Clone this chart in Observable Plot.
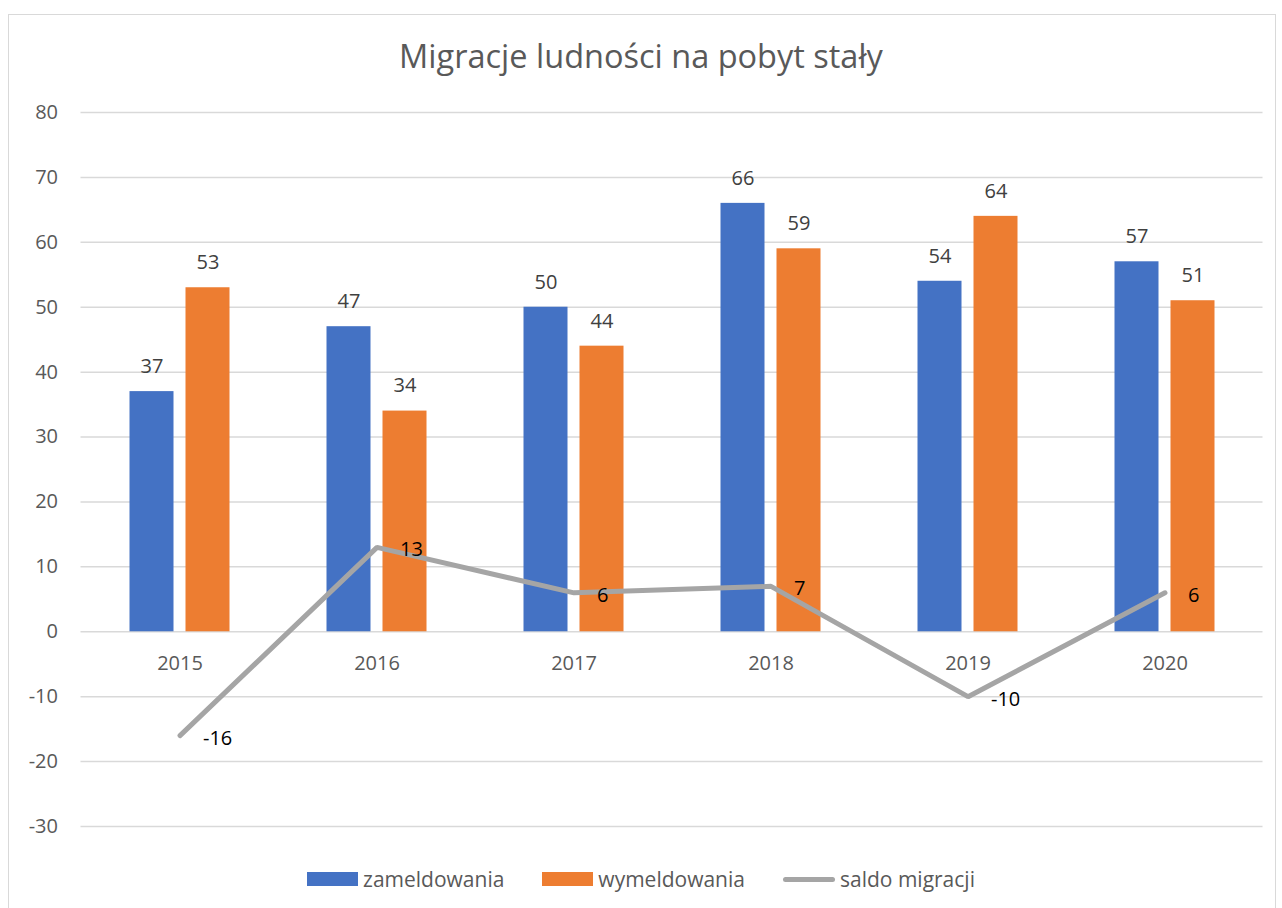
<!DOCTYPE html>
<html><head><meta charset="utf-8">
<script src="https://cdn.jsdelivr.net/npm/d3@7"></script>
<script src="https://cdn.jsdelivr.net/npm/@observablehq/plot@0.6"></script>
<style>
body{margin:0;background:#fff;font-family:"Open Sans",sans-serif;}
#wrap{position:relative;width:1282px;height:908px;overflow:hidden;}
#frame{position:absolute;left:8px;top:14px;width:1268px;height:920px;border:1.5px solid #d9d9d9;box-sizing:border-box;}
#title{position:absolute;left:0;width:1282px;top:34px;text-align:center;font-size:32.5px;color:#595959;line-height:44px;}
#legend{position:absolute;top:864px;left:0;width:1282px;display:flex;justify-content:center;font-size:21px;color:#595959;line-height:30px;}
.li{display:flex;align-items:center;margin:0 19px;}
.sw{width:51px;height:14px;margin-right:5px;}
.ln{width:52px;height:5px;border-radius:3px;margin-right:5px;}
#chart{position:absolute;left:0;top:0;}
</style></head>
<body><div id="wrap"><div id="frame"></div><div id="chart"></div>
<div id="title">Migracje ludności na pobyt stały</div>
<div id="legend"></div></div>
<script>
const years = ["2015","2016","2017","2018","2019","2020"];
const zameldowania = [37,47,50,66,54,57];
const wymeldowania = [53,34,44,59,64,51];
const saldo = [-16,13,6,7,-10,6];
const yTicks = [-30,-20,-10,0,10,20,30,40,50,60,70,80];
const seriesNames = ["zameldowania","wymeldowania","saldo migracji"];
const colors = ["#4472C4","#ED7D31","#A5A5A5"];

const zam = years.map((y,i)=>({year:y, value:zameldowania[i]}));
const wym = years.map((y,i)=>({year:y, value:wymeldowania[i]}));
const sal = years.map((y,i)=>({year:y, value:saldo[i]}));

const band = 197, bw = 44, gap = 12, outer = (band - 2*bw - gap)/2;
const fs = 20;

const plot = Plot.plot({
  width: 1282, height: 908,
  marginLeft: 80.5, marginRight: 19.5, marginTop: 112, marginBottom: 82,
  style:{fontFamily:"Open Sans, sans-serif", background:"transparent"},
  x:{domain: years, padding:0, axis:null},
  y:{domain:[-30,80], axis:null},
  marks:[
    Plot.ruleY(yTicks,{stroke:"#d9d9d9", strokeWidth:1.5}),
    Plot.text(yTicks,{y:d=>d, text:d=>String(d), frameAnchor:"left", textAnchor:"end", dx:-23, fontSize:fs, fill:"#595959"}),
    Plot.barY(zam,{x:"year", y:"value", fill:colors[0], insetLeft:outer, insetRight:outer+bw+gap}),
    Plot.barY(wym,{x:"year", y:"value", fill:colors[1], insetLeft:outer+bw+gap, insetRight:outer}),
    Plot.text(zam,{x:"year", y:"value", text:d=>String(d.value), dx:-(bw+gap)/2, dy:-25, fontSize:fs, fill:"#404040"}),
    Plot.text(wym,{x:"year", y:"value", text:d=>String(d.value), dx:(bw+gap)/2, dy:-25, fontSize:fs, fill:"#404040"}),
    Plot.text(years,{x:d=>d, y:0, text:d=>d, dy:31.5, fontSize:fs, fill:"#595959"}),
    Plot.lineY(sal,{x:"year", y:"value", stroke:colors[2], strokeWidth:5, strokeLinecap:"round", strokeLinejoin:"miter"}),
    Plot.text(sal,{x:"year", y:"value", text:d=>String(d.value), textAnchor:"start", dx:23, dy:2.5, fontSize:fs, fill:"#000"})
  ]
});
document.getElementById("chart").appendChild(plot);

const leg = document.getElementById("legend");
seriesNames.forEach((n,i)=>{
  const d = document.createElement("div"); d.className="li";
  const s = document.createElement("div"); s.className = i<2 ? "sw" : "ln"; s.style.background = colors[i];
  const t = document.createElement("span"); t.textContent = n;
  d.appendChild(s); d.appendChild(t); leg.appendChild(d);
});
</script></body></html>
